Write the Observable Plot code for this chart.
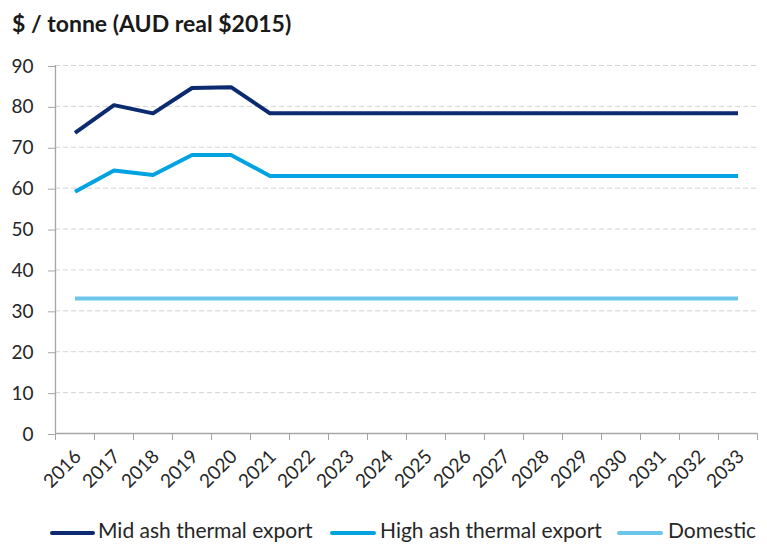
<!DOCTYPE html>
<html>
<head>
<meta charset="utf-8">
<script src="https://cdn.jsdelivr.net/npm/d3@7"></script>
<script src="https://cdn.jsdelivr.net/npm/@observablehq/plot@0.6"></script>
<style>
  html, body { margin: 0; padding: 0; background: #fff; }
  #wrap { position: relative; width: 767px; height: 544px; overflow: hidden; font-family: Lato, "Open Sans", sans-serif; }
  #title { position: absolute; left: 12px; top: 12px; font-size: 23px; line-height: 23px; font-weight: bold; color: #1a1a1a; white-space: nowrap; }
  #chart { position: absolute; left: 0; top: 0; }
  .leg { position: absolute; top: 519px; font-size: 21px; line-height: 21px; color: #262626; white-space: nowrap; }
  .sw { position: absolute; top: 531px; height: 4px; border-radius: 2px; }
</style>
</head>
<body>
<div id="wrap">
  <div id="chart"></div>
  <div id="title">$ / tonne (AUD real $2015)</div>
  <div id="legend"></div>
</div>
<script>
const years = [2016, 2017, 2018, 2019, 2020, 2021, 2022, 2023, 2024, 2025, 2026, 2027, 2028, 2029, 2030, 2031, 2032, 2033];
const midAsh = [73.5, 80.3, 78.3, 84.5, 84.7, 78.3, 78.3, 78.3, 78.3, 78.3, 78.3, 78.3, 78.3, 78.3, 78.3, 78.3, 78.3, 78.3];
const highAsh = [59.1, 64.3, 63.2, 68.1, 68.1, 63.0, 63.0, 63.0, 63.0, 63.0, 63.0, 63.0, 63.0, 63.0, 63.0, 63.0, 63.0, 63.0];
const domestic = [33, 33, 33, 33, 33, 33, 33, 33, 33, 33, 33, 33, 33, 33, 33, 33, 33, 33];
const yTicks = [0, 10, 20, 30, 40, 50, 60, 70, 80, 90];
const seriesNames = ["Mid ash thermal export", "High ash thermal export", "Domestic"];
const seriesColors = ["#0b2a6f", "#00a3e0", "#6dc6ea"];

const seriesValues = [midAsh, highAsh, domestic];
const rows = [];
seriesValues.forEach((vals, s) => vals.forEach((v, i) => rows.push({year: years[i], value: v, series: seriesNames[s]})));
const boundaries = years.map(y => y - 0.5).concat([years[years.length - 1] + 0.5]);

const axisGray = "#a6a6a6";
const plot = Plot.plot({
  width: 767,
  height: 510,
  marginLeft: 55,
  marginRight: 10,
  marginTop: 65,
  marginBottom: 77,
  style: {fontFamily: "Lato, 'Open Sans', sans-serif", background: "transparent"},
  x: {type: "linear", domain: [years[0] - 0.5, years[years.length - 1] + 0.5]},
  y: {domain: [0, 90]},
  color: {domain: seriesNames, range: seriesColors},
  marks: [
    Plot.gridY(yTicks.filter(t => t > 0), {stroke: "#d4d4d4", strokeOpacity: 1, strokeDasharray: "5,3"}),
    Plot.axisY({ticks: yTicks, tickSize: 7, tickPadding: 15, fontSize: 19, color: "#262626", stroke: axisGray, strokeOpacity: 1, tickFormat: d => String(d), label: null, dy: 1}),
    Plot.axisX({ticks: boundaries, tickSize: 7, tickFormat: () => "", stroke: axisGray, strokeOpacity: 1, label: null}),
    Plot.axisX({ticks: years, tickSize: 0, tickRotate: -45, tickPadding: 20, fontSize: 19, color: "#262626", tickFormat: d => String(d), label: null, dx: 3}),
    Plot.ruleX([years[0] - 0.5], {stroke: axisGray, strokeWidth: 1.3}),
    Plot.ruleY([0], {stroke: axisGray, strokeWidth: 1.3}),
    Plot.line(rows, {x: "year", y: "value", z: "series", stroke: "series", strokeWidth: 4, strokeLinejoin: "round", strokeLinecap: "butt"})
  ]
});
document.getElementById("chart").appendChild(plot);

const legend = document.getElementById("legend");
const legPos = [{sw: 50, swW: 45, tx: 98}, {sw: 330, swW: 46, tx: 380}, {sw: 617, swW: 46, tx: 668}];
seriesNames.forEach((name, i) => {
  const sw = document.createElement("div");
  sw.className = "sw";
  sw.style.left = legPos[i].sw + "px";
  sw.style.width = legPos[i].swW + "px";
  sw.style.background = seriesColors[i];
  legend.appendChild(sw);
  const t = document.createElement("div");
  t.className = "leg";
  t.style.left = legPos[i].tx + "px";
  t.textContent = name;
  legend.appendChild(t);
});
</script>
</body>
</html>
